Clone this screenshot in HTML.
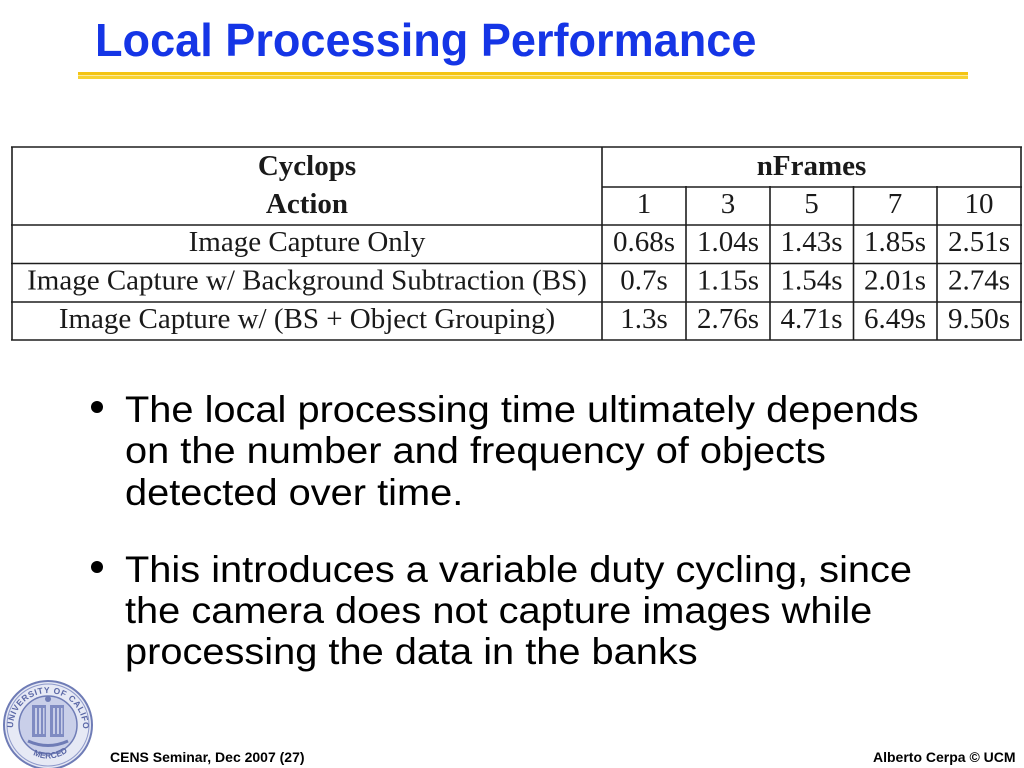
<!DOCTYPE html>
<html>
<head>
<meta charset="utf-8">
<style>
  html, body { margin:0; padding:0; background:#ffffff; }
  body { width:1024px; height:768px; position:relative; overflow:hidden; }
  .title { position:absolute; left:95px; top:10px; font-family:"Liberation Sans", Arial, sans-serif; font-weight:bold; font-size:46px; line-height:60px; color:#1535e6; white-space:nowrap; transform:scaleX(0.98); transform-origin:left top; }
  .rule { position:absolute; left:78px; width:890px; }
  .bl { position:absolute; left:125px; font-family:"Liberation Sans", Arial, sans-serif; font-size:37px; line-height:41.5px; color:#000; white-space:nowrap; transform:scaleX(1.075); transform-origin:left top; }
  .dot { position:absolute; width:12px; height:12px; border-radius:50%; background:#000; }
  .foot { position:absolute; font-family:"Liberation Sans", Arial, sans-serif; font-weight:bold; font-size:14px; line-height:16px; color:#000; white-space:nowrap; }
</style>
</head>
<body>

<div class="title">Local Processing Performance</div>
<div class="rule" style="top:72px;height:3px;background:#f4c414;"></div>
<div class="rule" style="top:75px;height:1px;background:#fbeaa0;"></div>
<div class="rule" style="top:76px;height:3px;background:#f7d232;"></div>

<svg style="position:absolute;left:0;top:0" width="1024" height="360" xmlns="http://www.w3.org/2000/svg">
  <g stroke="#1e1e1e" stroke-width="1.6" fill="none">
    <line x1="11" y1="147" x2="1022" y2="147"/>
    <line x1="602" y1="187" x2="1022" y2="187"/>
    <line x1="11" y1="225" x2="1022" y2="225"/>
    <line x1="11" y1="263.5" x2="1022" y2="263.5"/>
    <line x1="11" y1="302" x2="1022" y2="302"/>
    <line x1="11" y1="340" x2="1022" y2="340"/>
    <line x1="12" y1="147" x2="12" y2="340"/>
    <line x1="602" y1="147" x2="602" y2="340"/>
    <line x1="1021" y1="147" x2="1021" y2="340"/>
    <line x1="686" y1="186" x2="686" y2="340"/>
    <line x1="770" y1="186" x2="770" y2="340"/>
    <line x1="853.5" y1="186" x2="853.5" y2="340"/>
    <line x1="937" y1="186" x2="937" y2="340"/>
  </g>
  <g font-family="'Liberation Serif', 'DejaVu Serif', serif" font-size="29" fill="#1a1a1a" text-anchor="middle">
    <text x="307" y="175" font-weight="bold">Cyclops</text>
    <text x="307" y="213" font-weight="bold">Action</text>
    <text x="811.5" y="175" font-weight="bold">nFrames</text>
    <text x="644" y="213">1</text>
    <text x="728" y="213">3</text>
    <text x="811.5" y="213">5</text>
    <text x="895" y="213">7</text>
    <text x="979" y="213">10</text>

    <text x="307" y="251">Image Capture Only</text>
    <text x="307" y="289.5">Image Capture w/ Background Subtraction (BS)</text>
    <text x="307" y="328">Image Capture w/ (BS + Object Grouping)</text>

    <text x="644" y="251">0.68s</text>
    <text x="728" y="251">1.04s</text>
    <text x="811.5" y="251">1.43s</text>
    <text x="895" y="251">1.85s</text>
    <text x="979" y="251">2.51s</text>

    <text x="644" y="289.5">0.7s</text>
    <text x="728" y="289.5">1.15s</text>
    <text x="811.5" y="289.5">1.54s</text>
    <text x="895" y="289.5">2.01s</text>
    <text x="979" y="289.5">2.74s</text>

    <text x="644" y="328">1.3s</text>
    <text x="728" y="328">2.76s</text>
    <text x="811.5" y="328">4.71s</text>
    <text x="895" y="328">6.49s</text>
    <text x="979" y="328">9.50s</text>
  </g>
</svg>

<div class="dot" style="left:91px;top:401px;"></div>
<div class="bl" style="top:388.5px;">The local processing time ultimately depends</div>
<div class="bl" style="top:430px;">on the number and frequency of objects</div>
<div class="bl" style="top:471.5px;">detected over time.</div>

<div class="dot" style="left:91px;top:561px;"></div>
<div class="bl" style="top:548.5px;">This introduces a variable duty cycling, since</div>
<div class="bl" style="top:589.5px;">the camera does not capture images while</div>
<div class="bl" style="top:630.5px;">processing the data in the banks</div>

<svg style="position:absolute;left:0;top:678px" width="100" height="90" xmlns="http://www.w3.org/2000/svg">
  <defs>
    <path id="arcTop" d="M 13 50 A 35 35 0 0 1 83 50"/>
    <path id="arcBot" d="M 20 64 A 32 32 0 0 0 76 64"/>
  </defs>
  <circle cx="48" cy="47" r="44" fill="#e6e9f5" stroke="#6f7cb6" stroke-width="2"/>
  <circle cx="48" cy="47" r="41" fill="none" stroke="#8f9acb" stroke-width="1"/>
  <circle cx="48" cy="47" r="29" fill="#c9cfe9" stroke="#6f7cb6" stroke-width="1.5"/>
  <text font-family="'Liberation Sans', sans-serif" font-size="8.5" font-weight="bold" fill="#5a67a6" letter-spacing="0.6"><textPath href="#arcTop">UNIVERSITY OF CALIFORNIA</textPath></text>
  <text font-family="'Liberation Sans', sans-serif" font-size="8.5" font-weight="bold" fill="#5a67a6"><textPath href="#arcBot" startOffset="27%">MERCED</textPath></text>
  <rect x="32" y="27" width="14" height="32" fill="#7f8bc2"/>
  <rect x="50" y="27" width="14" height="32" fill="#7f8bc2"/>
  <rect x="35" y="30" width="2" height="26" fill="#c8cee8"/>
  <rect x="39" y="30" width="2" height="26" fill="#c8cee8"/>
  <rect x="43" y="30" width="1.5" height="26" fill="#c8cee8"/>
  <rect x="53" y="30" width="2" height="26" fill="#c8cee8"/>
  <rect x="57" y="30" width="2" height="26" fill="#c8cee8"/>
  <rect x="61" y="30" width="1.5" height="26" fill="#c8cee8"/>
  <path d="M 28 63 Q 48 72 68 63" stroke="#6f7cb6" stroke-width="3" fill="none"/>
  <circle cx="48" cy="21" r="3" fill="#6f7cb6"/>
</svg>

<div class="foot" style="left:110px;top:749px;">CENS Seminar, Dec 2007 (27)</div>
<div class="foot" style="left:873px;top:749px;">Alberto Cerpa © UCM</div>

</body>
</html>
